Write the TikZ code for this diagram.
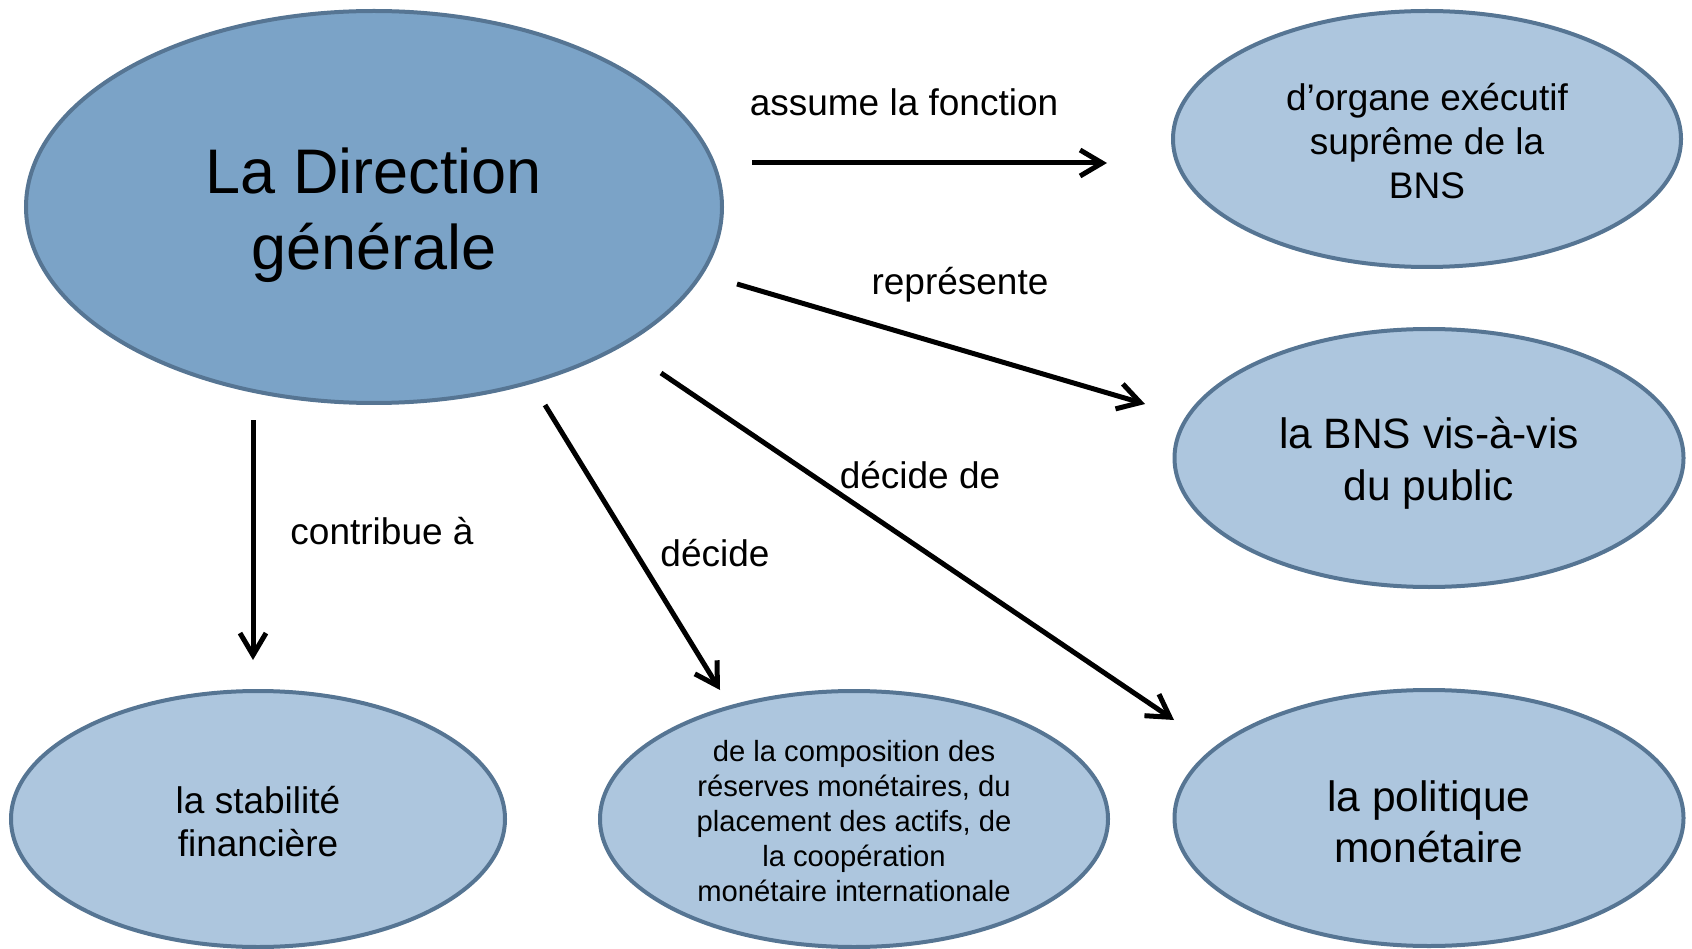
\documentclass[tikz,border=0pt]{standalone}
\usepackage{fontspec}
\setmainfont{Liberation Sans}
\usetikzlibrary{shapes.geometric,arrows.meta}
\definecolor{darkfill}{RGB}{123,163,199}
\definecolor{lightfill}{RGB}{173,198,222}
\definecolor{rim}{RGB}{86,117,147}
\tikzset{
  bubble/.style={ellipse, draw=rim, line width=4pt, inner sep=0pt},
  mainbubble/.style={bubble, fill=darkfill},
  smallbubble/.style={bubble, fill=lightfill},
  btext/.style={align=center, inner sep=0pt},
  conn/.style={line width=5pt, -{Straight Barb[length=22pt,width=26pt,line width=5pt]}},
  lbl/.style={font=\fontsize{37}{44}\selectfont, inner sep=0pt}
}
\begin{document}
\begin{tikzpicture}[x=1pt,y=-1pt]
\useasboundingbox (0,0) rectangle (1692,949);
\node[mainbubble, minimum width=696pt, minimum height=392pt] (dg) at (374,207) {};
\node[smallbubble, minimum width=508pt, minimum height=256pt] (exec) at (1427,139) {};
\node[smallbubble, minimum width=509pt, minimum height=258pt] (public) at (1429,458) {};
\node[smallbubble, minimum width=509pt, minimum height=256pt] (polit) at (1429,818) {};
\node[smallbubble, minimum width=508pt, minimum height=256pt] (reserv) at (854,819) {};
\node[smallbubble, minimum width=494pt, minimum height=256pt] (stab) at (258,819) {};

\node[btext, font=\fontsize{63}{75.5}\selectfont] (dgt) at ([yshift=-8pt]dg.center) {La Direction\\générale};
\node[btext, font=\fontsize{37}{44}\selectfont] (exect) at ([yshift=-2pt]exec.center) {d’organe exécutif\\suprême de la\\BNS};
\node[btext, font=\fontsize{42.5}{51.5}\selectfont] (publict) at ([yshift=-5.5pt]public.center) {la BNS vis-à-vis\\du public};
\node[btext, font=\fontsize{42.5}{51.5}\selectfont] (politt) at ([yshift=-4pt]polit.center) {la politique\\monétaire};
\node[btext, font=\fontsize{29.2}{35}\selectfont] (reservt) at ([yshift=-2pt]reserv.center) {de la composition des\\réserves monétaires, du\\placement des actifs, de\\la coopération\\monétaire internationale};
\node[btext, font=\fontsize{37}{43}\selectfont] (stabt) at ([yshift=-3pt]stab.center) {la stabilité\\financière};

\coordinate (a1s) at (752,163);  \coordinate (a1e) at (1107,163);
\coordinate (a2s) at (737,284);  \coordinate (a2e) at (1145,404);
\coordinate (a3s) at (661,373);  \coordinate (a3e) at (1174,720);
\coordinate (a4s) at (545,405);  \coordinate (a4e) at (720,690);
\coordinate (a5s) at (253,420);  \coordinate (a5e) at (253,660);

\draw[conn] (a1s) -- (a1e);
\draw[conn] (a2s) -- (a2e);
\draw[conn] (a3s) -- (a3e);
\draw[conn] (a4s) -- (a4e);
\draw[conn] (a5s) -- (a5e);

\node[lbl] (l1) at (904,102) {assume la fonction};
\node[lbl] (l2) at (960,285) {représente};
\node[lbl] (l3) at (920,475) {décide de};
\node[lbl] (l4) at (715,553) {décide};
\node[lbl] (l5) at (382,531) {contribue à};
\end{tikzpicture}
\end{document}
